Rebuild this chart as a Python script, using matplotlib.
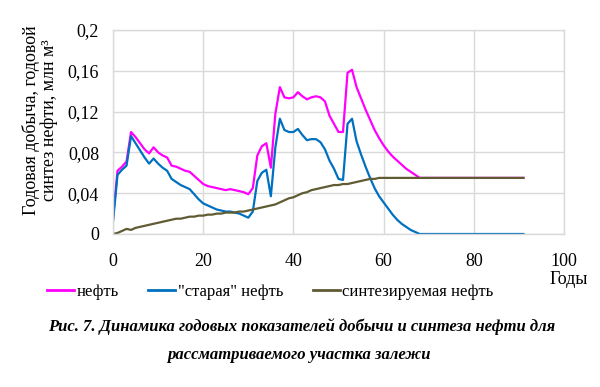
import matplotlib
matplotlib.use("Agg")
import matplotlib.pyplot as plt
from matplotlib.lines import Line2D

years = list(range(0, 92))

oil_total = [0.015, 0.062, 0.066, 0.071, 0.100, 0.095, 0.089, 0.083, 0.079, 0.085,
             0.080, 0.077, 0.075, 0.067, 0.066, 0.064, 0.062, 0.061, 0.057, 0.053,
             0.049, 0.047, 0.046, 0.045, 0.044, 0.043, 0.044, 0.043, 0.042, 0.041,
             0.039, 0.045, 0.077, 0.086, 0.089, 0.065, 0.118, 0.144, 0.134, 0.133,
             0.134, 0.139, 0.135, 0.132, 0.134, 0.135, 0.134, 0.130, 0.116, 0.108,
             0.100, 0.100, 0.158, 0.161, 0.144, 0.133, 0.122, 0.112, 0.102, 0.094,
             0.087, 0.081, 0.076, 0.072, 0.068, 0.064, 0.061, 0.058, 0.055] + [0.055] * 23

oil_old = [0.012, 0.058, 0.063, 0.067, 0.096, 0.089, 0.082, 0.075, 0.069, 0.074,
           0.069, 0.065, 0.062, 0.054, 0.051, 0.048, 0.046, 0.044, 0.039, 0.034,
           0.030, 0.028, 0.026, 0.024, 0.023, 0.022, 0.022, 0.021, 0.020, 0.018,
           0.016, 0.022, 0.052, 0.060, 0.063, 0.037, 0.085, 0.113, 0.102, 0.100,
           0.100, 0.103, 0.097, 0.092, 0.093, 0.093, 0.090, 0.083, 0.072, 0.064,
           0.054, 0.053, 0.108, 0.113, 0.091, 0.078, 0.066, 0.055, 0.045, 0.037,
           0.031, 0.025, 0.019, 0.014, 0.010, 0.007, 0.004, 0.002, 0.000] + [0.0] * 23

oil_synth = [0.000, 0.001, 0.003, 0.005, 0.004, 0.006, 0.007, 0.008, 0.009, 0.010,
             0.011, 0.012, 0.013, 0.014, 0.015, 0.015, 0.016, 0.017, 0.017, 0.018,
             0.018, 0.019, 0.019, 0.020, 0.020, 0.021, 0.021, 0.021, 0.022, 0.022,
             0.023, 0.024, 0.025, 0.026, 0.027, 0.028, 0.029, 0.031, 0.033, 0.035,
             0.036, 0.038, 0.040, 0.041, 0.043, 0.044, 0.045, 0.046, 0.047, 0.048,
             0.048, 0.049, 0.049, 0.050, 0.051, 0.052, 0.053, 0.054, 0.054, 0.055,
             0.055] + [0.055] * 31

series_labels = ['нефть', '"старая" нефть', 'синтезируемая нефть']
series_colors = ['#ff00ff', '#0070c0', '#5f5b33']

x_ticks = [0, 20, 40, 60, 80, 100]
y_ticks = [0, 0.04, 0.08, 0.12, 0.16, 0.2]
y_tick_labels = ['0', '0,04', '0,08', '0,12', '0,16', '0,2']

plt.rcParams['font.family'] = ['Liberation Serif', 'DejaVu Serif']

fig = plt.figure(figsize=(6, 3.87), dpi=100)
ax = fig.add_axes([113 / 600, 1 - 234 / 387, 451 / 600, 204 / 387])

for data, color, label in zip([oil_total, oil_old, oil_synth], series_colors, series_labels):
    ax.plot(years, data, color=color, lw=1.6, label=label, solid_joinstyle='round')

ax.set_xlim(0, 100)
ax.set_ylim(0, 0.2)
ax.set_xticks(x_ticks)
ax.set_xticklabels([str(t) for t in x_ticks], fontsize=13)
ax.set_yticks(y_ticks)
ax.set_yticklabels(y_tick_labels, fontsize=13)
ax.tick_params(axis='x', length=0, pad=14)
ax.tick_params(axis='y', length=0, pad=10)
ax.grid(True, color='#d9d9d9', lw=1.0)
ax.set_axisbelow(True)
for sp in ax.spines.values():
    sp.set_color('#d9d9d9')
    sp.set_linewidth(1.0)

ax.set_ylabel('Годовая добыча, годовой\nсинтез нефти, млн м³', fontsize=13,
              linespacing=1.05)
ax.yaxis.set_label_coords(-0.122, 0.56)

fig.text(550 / 600, 1 - 279 / 387, 'Годы', fontsize=13, va='center', ha='left')

handles = [Line2D([0], [0], color=c, lw=2) for c in series_colors]
fig.legend(handles, series_labels, loc='center left', bbox_to_anchor=(47 / 600, 1 - 292 / 387),
           ncol=3, frameon=False, fontsize=12, handlelength=1.6, handletextpad=0.15,
           columnspacing=1.8, borderaxespad=0, borderpad=0)

fig.text(0.502, 1 - 327 / 387, 'Рис. 7. Динамика годовых показателей добычи и синтеза нефти для',
         fontsize=12.0, fontweight='bold', fontstyle='italic', ha='center', va='center')
fig.text(0.498, 1 - 355 / 387, 'рассматриваемого участка залежи',
         fontsize=12.0, fontweight='bold', fontstyle='italic', ha='center', va='center')

fig.savefig('out.png', dpi=100)
